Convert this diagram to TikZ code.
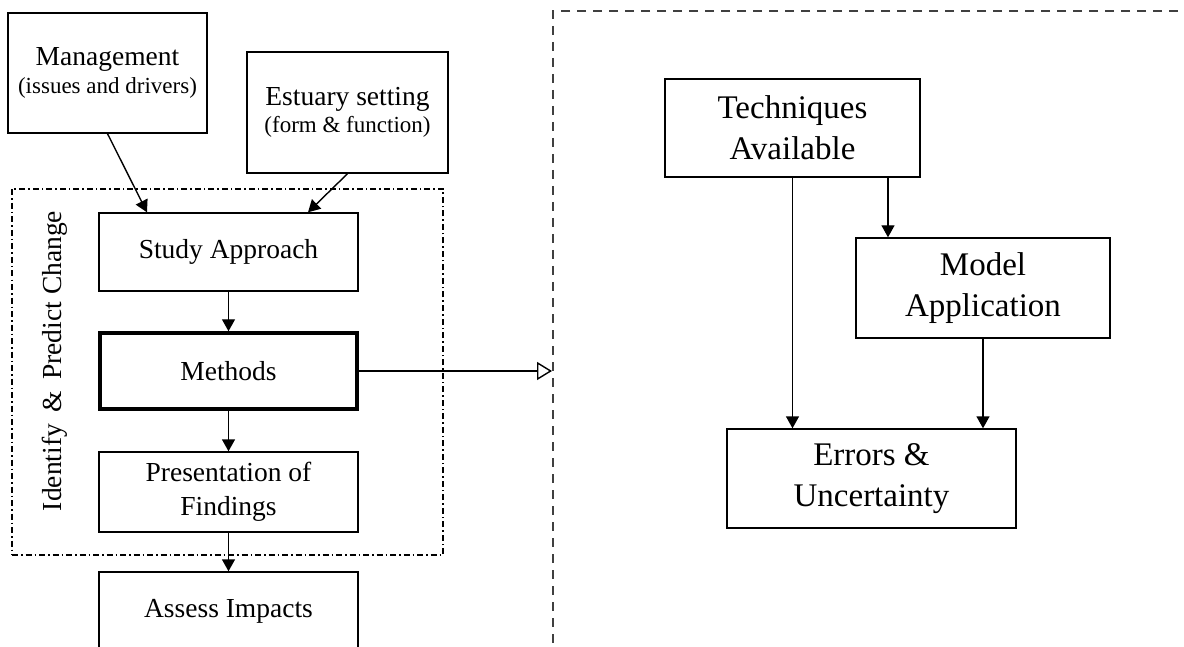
\documentclass[tikz,border=0pt]{standalone}
\usepackage{fontspec}
\setmainfont{Liberation Serif}
\usetikzlibrary{arrows.meta,calc}
\begin{document}
\begin{tikzpicture}[x=1pt,y=-1pt,
  box/.style={draw, line width=1.4pt, inner sep=0pt, align=center, font=\fontsize{27.5}{34}\selectfont},
  rbox/.style={box, font=\fontsize{33}{41}\selectfont},
  arr/.style={line width=1.4pt, -{Triangle[length=12pt,width=13pt]}},
  grpline/.style={draw, line width=1.3pt, dash pattern=on 6pt off 3pt on 1.5pt off 3pt, inner sep=0pt},
  frameline/.style={draw=black!75, line width=1.7pt, dash pattern=on 9pt off 7pt, inner sep=0pt}]
\useasboundingbox (0,0) rectangle (1184,647);
\clip (0,0) rectangle (1184,647);

% frames
\node[grpline, minimum width=431pt, minimum height=366pt] (grp) at (227.5,372) {};
\node[frameline, minimum width=647pt, minimum height=659pt] (frame) at (876.5,340.5) {};

% left column
\node[box, minimum width=199pt, minimum height=120pt] (mgmt) at (107.5,73)
  {Management\\[-6pt]{\fontsize{23}{27}\selectfont (issues and drivers)}};
\node[box, minimum width=201pt, minimum height=121pt] (est) at (347.5,112.5)
  {Estuary setting\\[-7pt]{\fontsize{23}{27}\selectfont (form \& function)}};
\node[box, minimum width=259pt, minimum height=78pt] (study) at (228.5,252) {Study Approach};
\node[box, line width=3.5pt, minimum width=257pt, minimum height=76pt] (methods) at (228.5,371) {Methods};
\node[box, minimum width=259pt, minimum height=80pt] (pres) at (228.5,492) {Presentation of\\Findings};
\node[box, minimum width=259pt, minimum height=78pt] (assess) at (228.5,611) {Assess Impacts};
\node[font=\fontsize{27.5}{30}\selectfont, rotate=90, inner sep=0pt] (lbl) at (55,361) {Identify \,\&\, Predict Change};

% right column
\node[rbox, minimum width=255pt, minimum height=98pt] (tech) at (792.5,128) {Techniques\\Available};
\node[rbox, minimum width=254pt, minimum height=100pt] (model) at (983,288) {Model\\Application};
\node[rbox, minimum width=289pt, minimum height=99pt] (errors) at (871.5,478.5) {Errors \&\\Uncertainty};

% connectors left
\draw[arr] (mgmt.south) -- ([xshift=-81.5pt]study.north);
\draw[arr] (est.south) -- ([xshift=79.5pt]study.north);
\draw[arr] (study.south) -- (methods.north);
\draw[arr] (methods.south) -- (pres.north);
\draw[arr] (pres.south) -- (assess.north);
\coordinate (tip) at (552,371);
\draw[line width=1.4pt, -{Triangle[open,length=15pt,width=18pt,fill=white]}] (methods.east) -- (tip);

% connectors right
\coordinate (techout) at ([xshift=95.5pt]tech.south);
\draw[arr] (tech.south) -- (tech.south |- errors.north);
\draw[arr] (techout) -- (techout |- model.north);
\draw[arr] (model.south) -- (model.south |- errors.north);
\end{tikzpicture}
\end{document}
